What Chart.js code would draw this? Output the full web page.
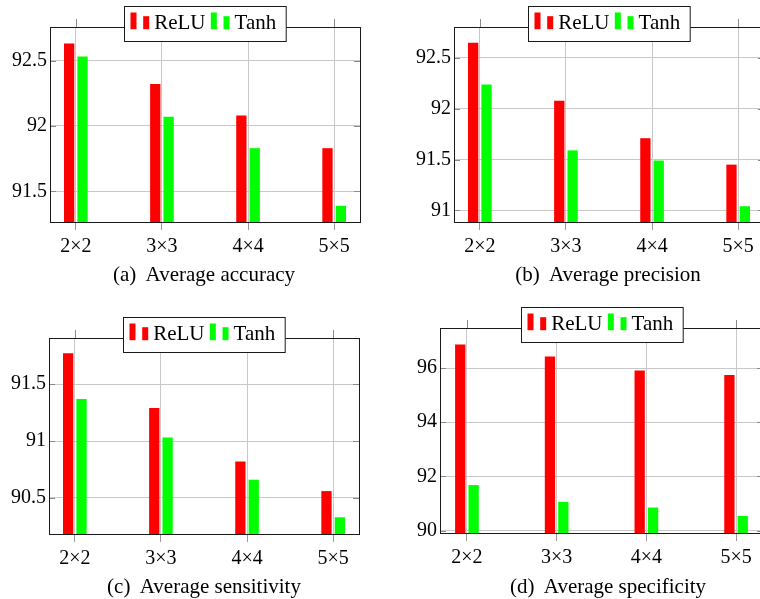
<!DOCTYPE html>
<html>
<head>
<meta charset="utf-8">
<script src="https://cdn.jsdelivr.net/npm/chart.js@4.4.1/dist/chart.umd.min.js"></script>
<style>
  html, body { margin: 0; padding: 0; background: #fff; width: 760px; height: 599px; overflow: hidden; }
  canvas { position: absolute; }
  .cap {
    position: absolute;
    font-size: 21px;
    font-family: "Liberation Serif", "DejaVu Serif", serif;
    color: #000;
    white-space: pre;
    transform: translate(-50%, -50%);
  }
</style>
</head>
<body>
<canvas id="accuracy"></canvas>
<canvas id="precision"></canvas>
<canvas id="sensitivity"></canvas>
<canvas id="specificity"></canvas>
<div class="cap" style="left:204px; top:274px">(a)  Average accuracy</div>
<div class="cap" style="left:608px; top:274px">(b)  Average precision</div>
<div class="cap" style="left:204px; top:586px">(c)  Average sensitivity</div>
<div class="cap" style="left:608px; top:586px">(d)  Average specificity</div>
<script>
const categories = ['2×2', '3×3', '4×4', '5×5'];
const seriesNames = ['ReLU', 'Tanh'];

const accuracyRelu = [92.63, 92.32, 92.08, 91.83];
const accuracyTanh = [92.53, 92.07, 91.83, 91.39];
const accuracyTicks = [91.5, 92, 92.5];

const precisionRelu = [92.65, 92.08, 91.71, 91.45];
const precisionTanh = [92.24, 91.59, 91.49, 91.04];
const precisionTicks = [91, 91.5, 92, 92.5];

const sensitivityRelu = [91.77, 91.29, 90.82, 90.56];
const sensitivityTanh = [91.37, 91.03, 90.66, 90.33];
const sensitivityTicks = [90.5, 91, 91.5];

const specificityRelu = [96.87, 96.43, 95.91, 95.74];
const specificityTanh = [91.68, 91.06, 90.85, 90.54];
const specificityTicks = [90, 92, 94, 96];

const colors = ['#ff0000', '#00ff00'];
const family = '"Liberation Serif", "DejaVu Serif", serif';

// plot box [left, top, right, bottom] in page pixels, and y range
const panels = [
  { id: 'accuracy', relu: accuracyRelu, tanh: accuracyTanh, ticks: accuracyTicks, yMin: 91.266, yMax: 92.756, box: [49.5, 26.7, 359, 222] },
  { id: 'precision', relu: precisionRelu, tanh: precisionTanh, ticks: precisionTicks, yMin: 90.885, yMax: 92.805, box: [454, 26.7, 763.7, 222] },
  { id: 'sensitivity', relu: sensitivityRelu, tanh: sensitivityTanh, ticks: sensitivityTicks, yMin: 90.183, yMax: 91.905, box: [49.3, 338.3, 359, 534] },
  { id: 'specificity', relu: specificityRelu, tanh: specificityTanh, ticks: specificityTicks, yMin: 89.91, yMax: 97.48, box: [440, 327.7, 762.7, 532.3] }
];

const xMin = -0.3;
const xMax = 3.3;
const yAxisW = 50;
const padTop = 30;
const padRight = 12;
const xAxisH = 40;

const decor = {
  id: 'decor',
  afterDatasetsDraw(chart) {
    const { ctx, chartArea: a, scales: { x, y } } = chart;
    const line = (x1, y1, x2, y2) => {
      ctx.beginPath();
      ctx.moveTo(x1, y1);
      ctx.lineTo(x2, y2);
      ctx.stroke();
    };
    ctx.save();
    ctx.lineWidth = 1;
    ctx.strokeStyle = '#8a8a8a';
    y.ticks.forEach((t) => {
      const py = Math.round(y.getPixelForValue(t.value)) + 0.5;
      line(a.left, py, a.left + 6, py);
      line(a.right - 6, py, a.right, py);
    });
    x.ticks.forEach((t) => {
      const px = Math.round(x.getPixelForValue(t.value)) + 0.5;
      line(px, a.top - 8, px, a.top);
    });
    ctx.strokeStyle = '#1a1a1a';
    ctx.strokeRect(Math.round(a.left) + 0.5, Math.round(a.top) + 0.5,
      Math.round(a.right - a.left), Math.round(a.bottom - a.top));
    ctx.restore();
  },
  afterDraw(chart) {
    // legend box straddling the top edge of the plot
    const { ctx, chartArea: a } = chart;
    ctx.save();
    ctx.font = '21px ' + family;
    const widths = seriesNames.map((n) => ctx.measureText(n).width);
    const boxW = 6 + widths.reduce((s, w) => s + 23.7 + w, 0) + 5.3 * (seriesNames.length - 1) + 10;
    const boxH = 35;
    const boxL = Math.round((a.left + a.right) / 2 - boxW / 2) + 0.5;
    const boxT = Math.round(a.top - 20.7) + 0.5;
    ctx.fillStyle = '#fff';
    ctx.fillRect(boxL, boxT, boxW, boxH);
    ctx.strokeStyle = '#1a1a1a';
    ctx.lineWidth = 1;
    ctx.strokeRect(boxL, boxT, boxW, boxH);
    const base = boxT + 22.7;
    let cx = boxL + 6;
    seriesNames.forEach((name, i) => {
      ctx.fillStyle = colors[i];
      ctx.fillRect(cx, base - 16.7, 6, 16.7);
      ctx.fillRect(cx + 12.7, base - 13, 6, 13);
      ctx.fillStyle = '#000';
      ctx.textBaseline = 'alphabetic';
      ctx.fillText(name, cx + 23.7, base);
      cx += 23.7 + widths[i] + 5.3;
    });
    ctx.restore();
  }
};

panels.forEach((p) => {
  const [L, T, R, B] = p.box;
  const canvas = document.getElementById(p.id);
  const cw = Math.round(R - L + yAxisW + padRight);
  const ch = Math.round(B - T + padTop + xAxisH);
  canvas.width = cw;
  canvas.height = ch;
  canvas.style.width = cw + 'px';
  canvas.style.height = ch + 'px';
  canvas.style.left = Math.round(L - yAxisW) + 'px';
  canvas.style.top = Math.round(T - padTop) + 'px';

  const spacing = (R - L) / (xMax - xMin);
  const catPct = 26.7 / spacing;

  const ds = [p.relu, p.tanh].map((vals, i) => ({
    label: seriesNames[i],
    data: vals.map((v, k) => ({ x: k, y: v })),
    backgroundColor: colors[i],
    borderWidth: 0,
    base: p.yMin,
    categoryPercentage: catPct,
    barPercentage: 0.77
  }));

  new Chart(canvas, {
    type: 'bar',
    data: { datasets: ds },
    options: {
      responsive: false,
      animation: false,
      devicePixelRatio: 1,
      layout: { padding: { top: padTop, right: padRight, left: 0, bottom: 0 } },
      plugins: { legend: { display: false }, tooltip: { enabled: false } },
      scales: {
        x: {
          type: 'linear',
          min: xMin,
          max: xMax,
          offset: false,
          afterBuildTicks: (s) => { s.ticks = categories.map((c, i) => ({ value: i })); },
          afterFit: (s) => { s.height = xAxisH; },
          grid: { offset: false, color: '#c8c8c8', tickLength: 8, tickColor: '#9a9a9a' },
          border: { display: false },
          ticks: {
            font: { family, size: 20 },
            color: '#000',
            padding: 5,
            maxRotation: 0,
            autoSkip: false,
            callback: (v) => categories[v]
          }
        },
        y: {
          min: p.yMin,
          max: p.yMax,
          afterBuildTicks: (s) => { s.ticks = p.ticks.map((v) => ({ value: v })); },
          afterFit: (s) => { s.width = yAxisW; },
          grid: { color: '#c8c8c8', drawTicks: false },
          border: { display: false },
          ticks: {
            font: { family, size: 20 },
            color: '#000',
            padding: 3,
            callback: (v) => String(v)
          }
        }
      }
    },
    plugins: [decor]
  });
});
</script>
</body>
</html>
